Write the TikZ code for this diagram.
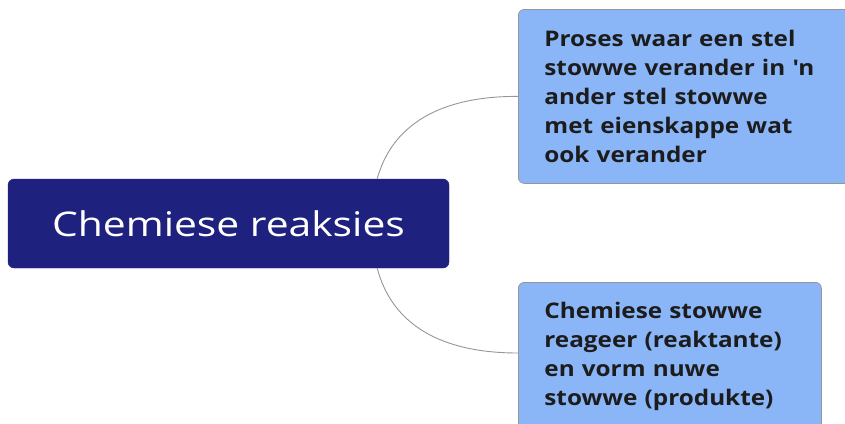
\documentclass[tikz,border=0pt]{standalone}
\usepackage{fontspec}
\setmainfont{Open Sans}
\newfontfamily\centralfont[FakeStretch=1.2]{Open Sans}
\newfontfamily\leaffont[FakeStretch=1.13]{Open Sans}
\usetikzlibrary{calc}
\definecolor{navy}{RGB}{30,33,125}
\definecolor{lightblue}{RGB}{138,182,248}
\definecolor{boxborder}{RGB}{150,150,150}
\definecolor{conn}{RGB}{150,150,150}
\definecolor{txt}{RGB}{28,28,28}
\begin{document}
\begin{tikzpicture}[x=1pt,y=-1pt,
  central/.style={fill=navy,draw=navy,rounded corners=6pt,text=white,
    minimum width=441pt,minimum height=89pt,inner sep=0pt,
    font=\centralfont\fontsize{34}{40}\selectfont},
  leaf/.style={fill=lightblue,draw=boxborder,line width=0.8pt,rounded corners=6pt,
    text=txt,align=left,inner xsep=26pt,inner ysep=0pt,anchor=north west,
    font=\leaffont\fontsize{21.5}{29}\selectfont\bfseries},
  link/.style={draw=conn,line width=0.9pt}]
\useasboundingbox (0,0) rectangle (845,423);
\clip (0,0) rectangle (845,423);
\node[central] (c) at (228.5,223.5) {Chemiese reaksies};
\node[leaf,text width=300pt,minimum height=174pt] (t) at (518,9)
  {Proses waar een stel\\stowwe verander in \symbol{"27}n\\ander stel stowwe\\met eienskappe wat\\ook verander};
\node[leaf,text width=251pt,minimum height=148pt] (b) at (518,282)
  {Chemiese stowwe\\reageer (reaktante)\\en vorm nuwe\\stowwe (produkte)};
\path (c.north east) ++(-72,0) coordinate (s1);
\path (c.south east) ++(-72,0) coordinate (s2);
\draw[link] (s1) .. controls (392,125) and (440,96) .. (t.west);
\draw[link] (s2) .. controls (392,324) and (440,353) .. ($(b.north west)+(0,71)$);
\end{tikzpicture}
\end{document}
